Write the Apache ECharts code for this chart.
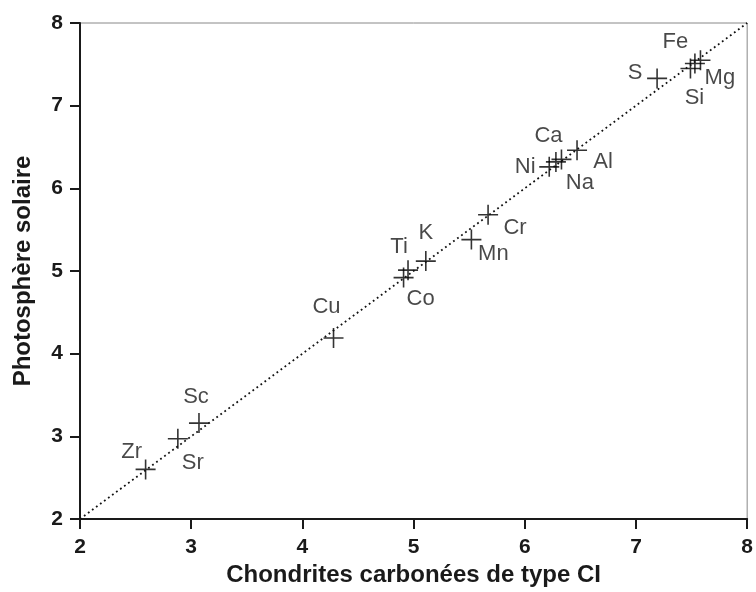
<!DOCTYPE html>
<html><head><meta charset="utf-8">
<script src="https://cdn.jsdelivr.net/npm/echarts@6/dist/echarts.min.js"></script>
<style>html,body{margin:0;padding:0;background:#fff}#c{width:756px;height:592px}</style>
</head><body><div id="c"></div>
<script>
const elements = ['Zr','Sr','Sc','Cu','Co','Ti','K','Mn','Cr','Ni','Na','Ca','Al','S','Si','Mg','Fe'];
const chondrites = [2.59,2.88,3.07,4.28,4.91,4.95,5.11,5.52,5.67,6.22,6.28,6.33,6.47,7.19,7.49,7.53,7.58];
const photosphere = [2.60,2.97,3.16,4.19,4.92,5.01,5.12,5.38,5.68,6.26,6.32,6.35,6.46,7.33,7.45,7.51,7.55];
const xTicks = [2,3,4,5,6,7,8];
const yTicks = [2,3,4,5,6,7,8];
const diagonal = [[2,2],[8,8]];

// label offsets (styling, in pixels)
const labelOffsets = {
  Zr:[-14,-17], Sr:[15,24], Sc:[-3,-26], Cu:[-7,-31], Co:[17,21], Ti:[-9,-23], K:[0,-28],
  Mn:[22,14], Cr:[27,13], Ni:[-24,0], Na:[24,21], Ca:[-13,-23], Al:[26,12],
  S:[-22,-5], Si:[4,29], Mg:[25,14], Fe:[-25,-18]
};

const pts = elements.map((e,i)=>({
  name:e, value:[chondrites[i], photosphere[i]],
  label:{show:true, formatter:e, position:'inside', offset:labelOffsets[e]}
}));

const FONT = 'Liberation Sans, Arial, sans-serif';
const chart = echarts.init(document.getElementById('c'));
const tickLabel = {fontFamily:FONT, fontWeight:'bold', fontSize:21, color:'#1a1a1a'};
const nameStyle = {fontFamily:FONT, fontWeight:'bold', fontSize:24, color:'#1a1a1a'};
chart.setOption({
  animation:false,
  grid:{left:80, right:6, top:23, bottom:73, show:true, borderColor:'#888', borderWidth:1},
  xAxis:{type:'value', min:2, max:8, interval:1,
    name:'Chondrites carbonées de type CI', nameLocation:'middle', nameGap:44,
    nameTextStyle:nameStyle,
    axisLine:{show:true, lineStyle:{color:'#1a1a1a', width:2}},
    axisTick:{show:true, length:10, lineStyle:{color:'#1a1a1a', width:2}},
    axisLabel:Object.assign({margin:18, formatter:v=>xTicks.includes(v)?String(v):''}, tickLabel),
    splitLine:{show:false}},
  yAxis:{type:'value', min:2, max:8, interval:1,
    name:'Photosphère solaire', nameLocation:'middle', nameGap:45,
    nameTextStyle:nameStyle,
    axisLine:{show:true, lineStyle:{color:'#1a1a1a', width:2}},
    axisTick:{show:true, length:10, lineStyle:{color:'#1a1a1a', width:2}},
    axisLabel:Object.assign({margin:17, formatter:v=>yTicks.includes(v)?String(v):''}, tickLabel),
    splitLine:{show:false}},
  series:[
    {type:'line', data:diagonal, symbol:'none', silent:true,
      lineStyle:{color:'#111', width:1.8, type:[1.8,3.2]}},
    {type:'scatter', data:pts,
      symbol:'path://M0,10 L20,10 M10,0 L10,20', symbolSize:20,
      itemStyle:{color:'transparent', borderColor:'#000', borderWidth:1.6},
      label:{fontFamily:FONT, fontSize:22, color:'#1a1a1a'}}
  ]
});
</script></body></html>
